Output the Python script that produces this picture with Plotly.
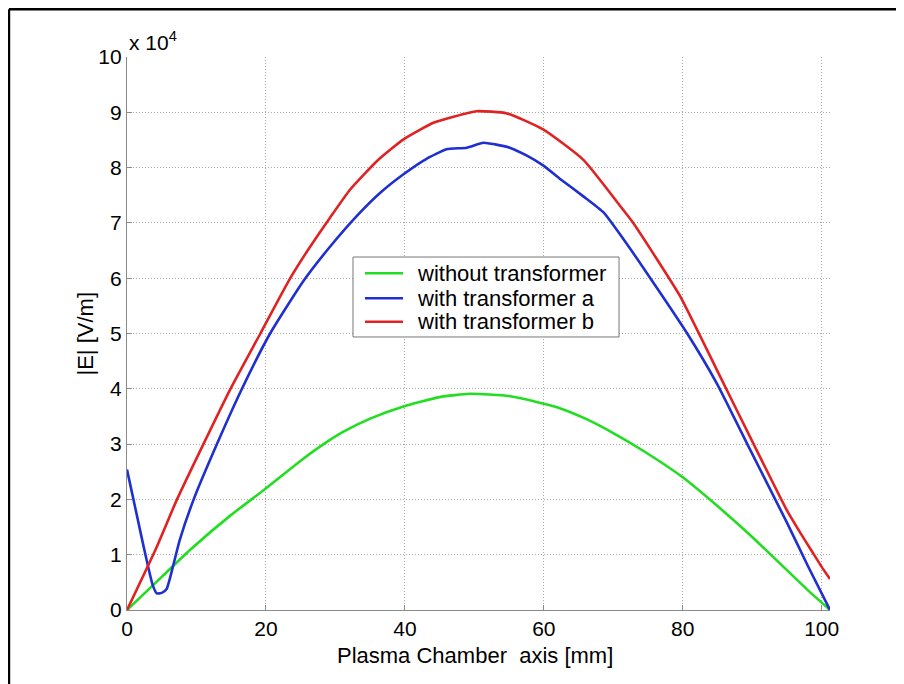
import plotly.graph_objects as go

# ---- data (|E| in units of 1e4 V/m, position in mm) ----
green_x = [0, 5, 9.1, 15, 19.7, 25, 28.3, 31.1, 35, 39.8, 45, 49.4, 55, 60, 62.3, 66, 70, 74.3, 80, 85, 90, 95, 98, 101.2]
green_y = [0, 0.6, 1.09, 1.72, 2.17, 2.7, 3.0, 3.22, 3.46, 3.68, 3.85, 3.91, 3.87, 3.73, 3.65, 3.46, 3.2, 2.88, 2.4, 1.88, 1.32, 0.72, 0.36, 0.0]

blue_x = [0, 2.3, 3.7, 4.3, 5.0, 5.7, 6.6, 7.6, 9.6, 12.95, 16.55, 20.6, 25.4, 29.1, 33.5, 36.5, 39.8, 43, 46, 48.9, 51.3, 53, 55.1, 57.5, 59.9, 62.3, 65.7, 68.6, 71.5, 74.8, 80.6, 84.9, 89.7, 95, 98, 101.2]
blue_y = [2.54, 1.2, 0.45, 0.3, 0.31, 0.38, 0.78, 1.27, 2.0, 3.0, 4.0, 5.0, 5.95, 6.55, 7.18, 7.55, 7.88, 8.15, 8.33, 8.36, 8.45, 8.42, 8.36, 8.22, 8.04, 7.8, 7.48, 7.19, 6.7, 6.1, 5.01, 4.1, 2.9, 1.58, 0.8, 0.0]

red_x = [0, 4.1, 7.2, 11.0, 14.9, 19.2, 23.5, 26.1, 29.2, 32.1, 36, 39.8, 44.1, 47, 50.3, 54.7, 59.9, 65.7, 71.4, 72.7, 76, 79.6, 85, 90.6, 95, 97, 98.5, 100, 101.2]
red_y = [0, 1.09, 2.0, 3.0, 4.0, 5.0, 6.0, 6.52, 7.09, 7.6, 8.12, 8.51, 8.81, 8.92, 9.02, 8.98, 8.69, 8.14, 7.24, 7.03, 6.4, 5.68, 4.32, 2.9, 1.8, 1.38, 1.08, 0.78, 0.56]

series_names = ["without transformer", "with transformer a", "with transformer b"]
series_colors = ["#22dd22", "#1f2fd0", "#e02222"]

x_ticks = [0, 20, 40, 60, 80, 100]
y_ticks = list(range(0, 11))

FONT = "Liberation Sans, Arial, Helvetica, sans-serif"

fig = go.Figure()
for name, color, xs, ys in zip(series_names, series_colors,
                               [green_x, blue_x, red_x], [green_y, blue_y, red_y]):
    fig.add_trace(go.Scatter(x=xs, y=ys, mode="lines", name=name,
                             line=dict(color=color, width=2.6, shape="spline", smoothing=0.5)))

axis_common = dict(
    showline=True, linecolor="#8a8a8a", linewidth=1.2,
    ticks="inside", ticklen=5, tickcolor="#8a8a8a",
    showgrid=True, gridcolor="#a8a8a8", griddash="1px,2px", gridwidth=1,
    zeroline=False, mirror=False,
    tickfont=dict(family=FONT, size=21, color="black"),
)

# page has an 8px body margin: plot area spans page x 127..830, y 57..610
fig.update_layout(
    width=896, height=676,
    margin=dict(l=119, r=74, t=49, b=74),
    paper_bgcolor="white", plot_bgcolor="white",
    font=dict(family=FONT, size=21, color="black"),
    xaxis=dict(range=[0, 101.2], tickvals=x_ticks, ticktext=[str(v) for v in x_ticks], **axis_common),
    yaxis=dict(range=[0, 10], tickvals=y_ticks, ticktext=[str(v) for v in y_ticks], **axis_common),
    showlegend=False,
)

fig.add_annotation(text="Plasma Chamber\u00a0 axis [mm]", xref="paper", yref="paper",
                   x=0.4957, y=-0.0814, xanchor="center", yanchor="middle",
                   showarrow=False, font=dict(family=FONT, size=22, color="black"))
fig.add_annotation(text="|E| [V/m]", xref="paper", yref="paper", textangle=-90,
                   x=-0.0597, y=0.5, xanchor="center", yanchor="middle",
                   showarrow=False, font=dict(family=FONT, size=22, color="black"))
fig.add_annotation(text="x 10<sup>4</sup>", xref="paper", yref="paper",
                   x=0, y=1, xanchor="left", yanchor="bottom", yshift=1,
                   showarrow=False, font=dict(family=FONT, size=21, color="black"))

# legend drawn as box + sample lines + labels
fig.add_shape(type="rect", xref="paper", yref="paper",
              x0=0.3215, x1=0.6999, y0=0.4937, y1=0.6383,
              line=dict(color="#777777", width=1), fillcolor="white", layer="above")
legend_rows = [0.6089, 0.5637, 0.5213]
for name, color, yr in zip(series_names, series_colors, legend_rows):
    fig.add_shape(type="line", xref="paper", yref="paper",
                  x0=0.3385, x1=0.3926, y0=yr, y1=yr,
                  line=dict(color=color, width=2.6), layer="above")
    fig.add_annotation(text=name, xref="paper", yref="paper",
                       x=0.4097, y=yr, xanchor="left", yanchor="middle",
                       showarrow=False, font=dict(family=FONT, size=22, color="black"))

# outer frame (top and left edges visible)
fig.add_shape(type="line", xref="paper", yref="paper",
              x0=-0.1679, y0=-0.3, x1=-0.1679, y1=1.0863,
              line=dict(color="black", width=2.5))
fig.add_shape(type="line", xref="paper", yref="paper",
              x0=-0.1679, y0=1.0863, x1=1.3, y1=1.0863,
              line=dict(color="black", width=2.5))

fig.write_html("out.html")
